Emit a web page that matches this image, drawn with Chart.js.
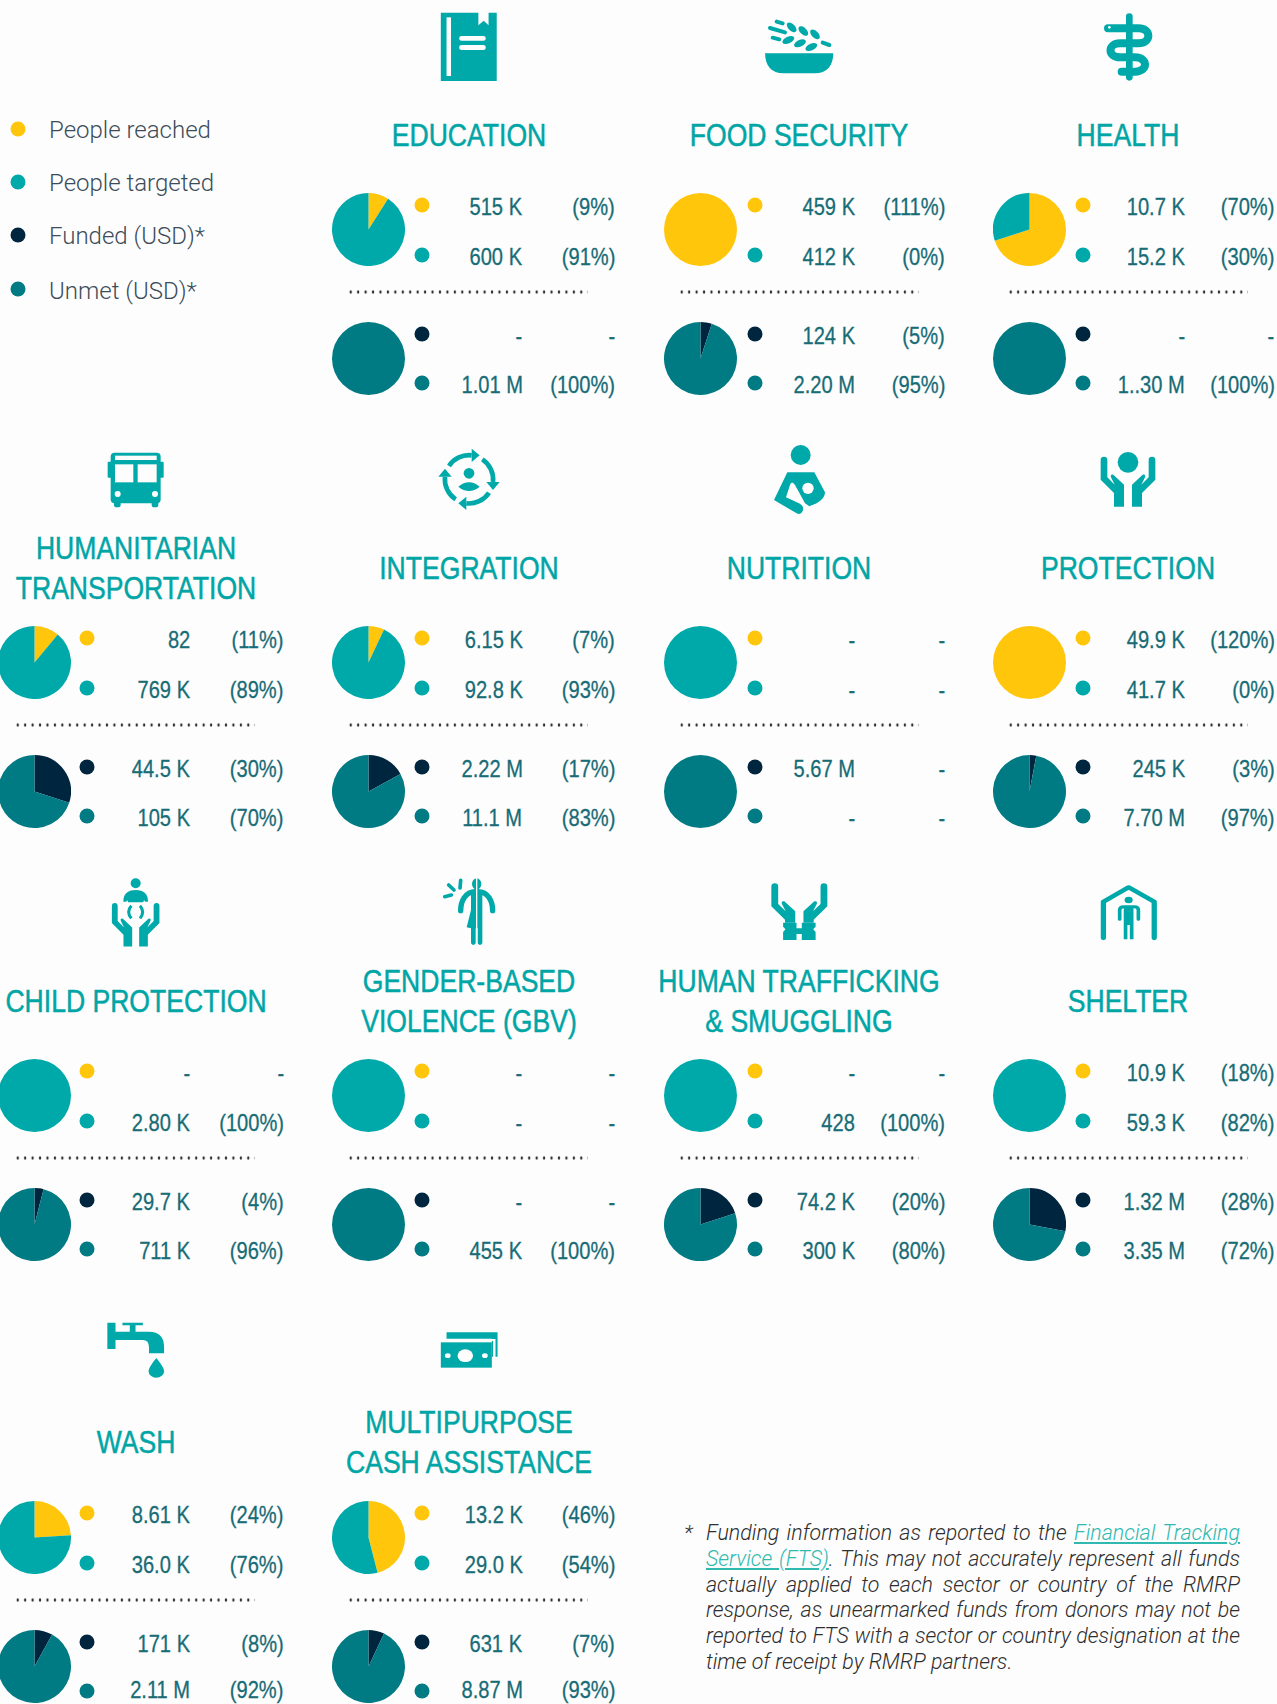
<!DOCTYPE html>
<html lang="en">
<head>
<meta charset="utf-8">
<title>RMRP sector overview</title>
<script src="https://cdn.jsdelivr.net/npm/chart.js@4"></script>
<style>
html,body{margin:0;padding:0;background:#fdfdfd}
#page{position:relative;width:1277px;height:1704px;overflow:hidden;background:#fdfdfd}
#page>*{position:absolute}
.title{font-family:"Liberation Sans",sans-serif;font-size:32px;line-height:32px;color:#00a5a6;text-align:center;white-space:nowrap;transform:translate(-50%,-50%) scaleX(.83);-webkit-text-stroke:.5px #00a5a6}
.val{font-family:"Liberation Sans",sans-serif;font-size:24.5px;line-height:22px;color:#176c76;white-space:nowrap;transform-origin:100% 50%;transform:translateY(-50%) scaleX(.82);-webkit-text-stroke:.3px #176c76}
.dot{width:15px;height:15px;border-radius:50%;transform:translate(-50%,-50%)}
.rule{height:3px;background-image:radial-gradient(circle at center,#333 0,#333 1.1px,transparent 1.5px);background-size:7.45px 3px;background-repeat:repeat-x;transform:translateY(-50%)}
.leg{font-family:Roboto,sans-serif;font-weight:300;font-size:24px;line-height:28px;color:#3c4c59;white-space:nowrap;transform:translateY(-50%)}
.note{font-family:Roboto,sans-serif;font-style:italic;font-weight:300;font-size:21.4px;line-height:26px;color:#2e2e2e;left:706px;width:534px;text-align:justify;text-align-last:justify;white-space:nowrap;transform:translateY(-50%)}
.note.end{text-align-last:left}
.note a{color:#2fb9b0;text-decoration:underline}
.star{font-family:Roboto,sans-serif;font-style:italic;font-weight:300;font-size:21px;color:#333;line-height:26px;transform:translateY(-50%)}
canvas{display:block}
</style>
</head>
<body>
<div id="page"></div>
<script>
// ---------- data ----------
const sectors = ["EDUCATION","FOOD SECURITY","HEALTH","HUMANITARIAN\nTRANSPORTATION","INTEGRATION","NUTRITION","PROTECTION","CHILD PROTECTION","GENDER-BASED\nVIOLENCE (GBV)","HUMAN TRAFFICKING\n& SMUGGLING","SHELTER","WASH","MULTIPURPOSE\nCASH ASSISTANCE"];
const reachedShare  = [9,111,70,11,7,0,120,0,0,0,0,24,46];
const targetedShare = [91,0,30,89,93,100,0,100,100,100,100,76,54];
const fundedShare   = [0,5,0,30,17,0,3,4,0,20,28,8,7];
const unmetShare    = [100,95,100,70,83,100,97,96,100,80,72,92,93];
const reachedText   = ["515 K","459 K","10.7 K","82","6.15 K","-","49.9 K","-","-","-","10.9 K","8.61 K","13.2 K"];
const reachedPct    = ["(9%)","(111%)","(70%)","(11%)","(7%)","-","(120%)","-","-","-","(18%)","(24%)","(46%)"];
const targetedText  = ["600 K","412 K","15.2 K","769 K","92.8 K","-","41.7 K","2.80 K","-","428","59.3 K","36.0 K","29.0 K"];
const targetedPct   = ["(91%)","(0%)","(30%)","(89%)","(93%)","-","(0%)","(100%)","-","(100%)","(82%)","(76%)","(54%)"];
const fundedText    = ["-","124 K","-","44.5 K","2.22 M","5.67 M","245 K","29.7 K","-","74.2 K","1.32 M","171 K","631 K"];
const fundedPct     = ["-","(5%)","-","(30%)","(17%)","-","(3%)","(4%)","-","(20%)","(28%)","(8%)","(7%)"];
const unmetText     = ["1.01 M","2.20 M","1..30 M","105 K","11.1 M","-","7.70 M","711 K","455 K","300 K","3.35 M","2.11 M","8.87 M"];
const unmetPct      = ["(100%)","(95%)","(100%)","(70%)","(83%)","-","(97%)","(96%)","(100%)","(80%)","(72%)","(92%)","(93%)"];
const legendLabels  = ["People reached","People targeted","Funded (USD)*","Unmet (USD)*"];
const noteLines = [
  'Funding information as reported to the <a>Financial Tracking</a>',
  '<a>Service (FTS)</a>. This may not accurately represent all funds',
  'actually applied to each sector or country of the RMRP',
  'response, as unearmarked funds from donors may not be',
  'reported to FTS with a sector or country designation at the',
  'time of receipt by RMRP partners.'
];

// ---------- layout and style ----------
const YELLOW="#ffc60b", TEAL="#00a9a9", DEEP="#007a83", NAVY="#00263f";
const sectorCol=[1,2,3,0,1,2,3,0,1,2,3,0,1];
const sectorRow=[0,0,0,1,1,1,1,2,2,2,2,3,3];
const pieX=[34.5,368.5,700.5,1029.5], dotX=[87,422.4,754.7,1083];
const valRight=[190,522.4,855,1185], pctRight=[283.7,615,945,1274.5];
const ruleLeft=[14,347,677.5,1006.5];
const titleX=[135.5,468.6,799,1127.5];
const rowTop=[229,662,1095,1537], titleY=[135,567.7,1001,1442];
const lastTextLift=[0,0,0,3];
const PIE=73;
const page=document.getElementById("page");
function el(cls,style,html){const d=document.createElement("div");d.className=cls;Object.assign(d.style,style);if(html!==undefined)d.innerHTML=html;page.appendChild(d);return d;}

function pie(cx,cy,values,colors){
  const c=document.createElement("canvas");
  c.width=PIE;c.height=PIE;
  c.style.cssText=`width:${PIE}px;height:${PIE}px;left:${cx-PIE/2}px;top:${cy-PIE/2}px`;
  page.appendChild(c);
  new Chart(c,{type:"pie",data:{labels:["a","b"],datasets:[{data:values,backgroundColor:colors,borderWidth:0}]},
    options:{responsive:false,animation:false,layout:{padding:0},plugins:{legend:{display:false},tooltip:{enabled:false}}}});
}
function row(col,y,color,val,pct,lift){
  const ty=y+1.8-(lift||0);
  el("dot",{left:dotX[col]+"px",top:y+"px",background:color});
  el("val",{right:(1277-valRight[col])+"px",top:ty+"px"},val);
  el("val",{right:(1277-pctRight[col])+"px",top:ty+"px"},pct);
}
sectors.forEach((s,i)=>{
  const c=sectorCol[i],r=sectorRow[i],t=rowTop[r],b=t+129;
  const lines=s.split("\n");
  lines.forEach((ln,k)=>{
    const y=titleY[r]+(lines.length===2?(k===0?-20:20.3):0);
    el("title",{left:titleX[c]+"px",top:y+"px"},ln.replace("&","&amp;"));
  });
  pie(pieX[c],t,[reachedShare[i],targetedShare[i]],[YELLOW,TEAL]);
  pie(pieX[c],b,[fundedShare[i],unmetShare[i]],[NAVY,DEEP]);
  row(c,t-24,YELLOW,reachedText[i],reachedPct[i]);
  row(c,t+25.7,TEAL,targetedText[i],targetedPct[i]);
  row(c,b-24,NAVY,fundedText[i],fundedPct[i]);
  row(c,b+25.3,DEEP,unmetText[i],unmetPct[i],lastTextLift[r]);
  el("rule",{left:ruleLeft[c]+"px",width:"241px",top:(t+63)+"px"});
});
[129,181.7,235,289.3].forEach((y,i)=>{
  el("dot",{left:"18.4px",top:y+"px",background:[YELLOW,TEAL,NAVY,DEEP][i]});
  el("leg",{left:"49px",top:(y+1.3)+"px"},legendLabels[i]);
});
el("star",{left:"684px",top:"1533px"},"*");
noteLines.forEach((t,i)=>{
  el("note"+(i===noteLines.length-1?" end":""),{top:(1533.3+i*25.7)+"px"},t);
});

// ---------- sector icons ----------
const I=(ox,oy,sx,sy,body)=>`<g transform="translate(${ox} ${oy}) scale(${1/sx} ${1/sy})">${body}</g>`;
const W="#fdfdfd";
const handL="M-82 -60a10 10 0 0 1 20 0V-8L-40 14 -51 -8Q-54 -18 -44 -16L-12 14V80H-42V39L-82 -1Z";
const handCuffed="M-82 -60a10 10 0 0 1 20 0V-8L-40 14 -51 -8Q-54 -18 -44 -16L-12 14V48H-42V39L-82 -1Z";
const hands=`<path d="${handL}"/><path d="${handL}" transform="scale(-1 1)"/>`;
const handsCuffed=`<path d="${handCuffed}"/><path d="${handCuffed}" transform="scale(-1 1)"/>`;
const arcQ=`<path d="M-60 -40A72 72 0 0 1 8 -72" fill="none" stroke="#00a9a9" stroke-width="14"/><path d="M8 -92L32 -72 8 -52Z"/>`;
const icons=[
 I(0,0,2.45,3,`<path d="M1080 38H1172V76L1185 62 1197 76V38H1217V243H1080Z"/><rect x="1094" y="52" width="11" height="176" fill="${W}"/><rect x="1125" y="108" width="65" height="14" rx="6" fill="${W}"/><rect x="1125" y="135" width="65" height="15" rx="6" fill="${W}"/>`),
 I(750,0,3,3,`<path d="M45 160H250Q248 220 195 220H100Q47 220 45 160Z"/><g fill="none" stroke="#00a9a9" stroke-width="12" stroke-linecap="round"><path d="M80 65L98 70M60 84L105 97M68 113L88 118M218 128L238 135"/></g><ellipse cx="125" cy="82" rx="18" ry="10" transform="rotate(45 125 82)"/><ellipse cx="160" cy="93" rx="18" ry="10" transform="rotate(45 160 93)"/><ellipse cx="195" cy="103" rx="18" ry="10" transform="rotate(45 195 103)"/><ellipse cx="115" cy="120" rx="19" ry="10" transform="rotate(-25 115 120)"/><ellipse cx="150" cy="130" rx="19" ry="10" transform="rotate(-25 150 130)"/><ellipse cx="184" cy="141" rx="19" ry="10" transform="rotate(-25 184 141)"/>`),
 I(750,0,3,3,`<path d="M1138 50V232" stroke="#00a9a9" stroke-width="20" stroke-linecap="round" fill="none"/><path d="M1074 85H1165C1205 85 1205 130 1165 130H1110C1072 130 1072 172 1110 172H1155C1195 172 1195 215 1155 215H1115" fill="none" stroke="#00a9a9" stroke-width="24" stroke-linecap="round"/><circle cx="1078" cy="82" r="4" fill="${W}"/>`),
 I(90,440,3,3,`<rect x="62" y="38" width="150" height="152" rx="12"/><rect x="53" y="65" width="12" height="48" rx="3"/><rect x="209" y="65" width="12" height="48" rx="3"/><rect x="72" y="180" width="20" height="22" rx="8"/><rect x="185" y="180" width="20" height="22" rx="8"/><rect x="75" y="47" width="125" height="13" fill="${W}"/><rect x="75" y="73" width="55" height="54" fill="${W}"/><rect x="143" y="73" width="57" height="54" fill="${W}"/><circle cx="83" cy="162" r="9" fill="${W}"/><circle cx="195" cy="162" r="9" fill="${W}"/>`),
 I(90,440,3,3,`<g transform="translate(1137 118)">${[0,90,180,270].map(a=>`<g transform="rotate(${a})">${arcQ}</g>`).join("")}<circle cx="0" cy="-18" r="16"/><path d="M-32 22Q0 -4 32 22Q0 48 -32 22Z"/></g>`),
 I(750,435,3,3,`<circle cx="152" cy="60" r="30"/><path d="M112 112H193L225 172Q225 198 178 214L165 205 135 150Q125 135 120 150L108 187 150 206Q166 216 156 232 150 240 140 235L72 195Z"/><circle cx="174" cy="160" r="17" fill="${W}"/>`),
 I(750,435,3,3,`<circle cx="1134" cy="82" r="31"/><g transform="translate(1134 135)">${hands}</g>`),
 I(90,870,3,3,`<circle cx="137" cy="40" r="15"/><path d="M100 95Q100 60 137 60Q174 60 174 95H165Q162 85 160 97H114Q112 85 109 95Z"/><path d="M124 107Q108 125 124 145M150 107Q166 125 150 145" fill="none" stroke="#00a9a9" stroke-width="9"/><g transform="translate(137 160) scale(.87)">${hands}</g>`),
 I(90,870,3,3,`<ellipse cx="1160" cy="42" rx="14" ry="17"/><path d="M1157 65H1163C1195 65 1208 95 1208 122" fill="none" stroke="#00a9a9" stroke-width="16" stroke-linecap="round"/><path d="M1163 65H1157C1125 65 1112 95 1112 122" fill="none" stroke="#00a9a9" stroke-width="16" stroke-linecap="round"/><path d="M1130 172L1143 120V70H1177V220Q1170 230 1163 220V175H1157V220Q1150 230 1143 220V175Z"/><rect x="1158" y="20" width="4" height="215" fill="${W}"/><path d="M1064 80L1084 75M1076 45L1092 60M1112 31L1110 54" stroke="#00a9a9" stroke-width="11" stroke-linecap="round" fill="none"/>`),
 I(640,860,2.46,3,`<g transform="translate(392 140) scale(.84 1)">${handsCuffed}</g><path d="M352 188H385V205H398V188H432V200L426 208 432 216V240H398V222H385V240H352V216L358 208 352 200Z"/>`),
 I(640,860,2.46,3,`<path d="M1140 234V125L1202 82 1265 125V234" fill="none" stroke="#00a9a9" stroke-width="13" stroke-linecap="round" stroke-linejoin="round"/><circle cx="1202" cy="120" r="10"/><path d="M1180 178V150Q1180 140 1190 140H1216Q1226 140 1226 150V178" fill="none" stroke="#00a9a9" stroke-width="9" stroke-linecap="round"/><path d="M1190 142H1214V238H1205V195H1199V238H1190Z"/>`),
 I(0,1290,2.45,3,`<path d="M263 98H283V125H318V106H300V98H350V106H332V125H365Q402 125 402 172V190H365V172Q365 150 350 150H283V177H263Z"/><path d="M383 204Q402 232 402 244A19 19 0 0 1 364 244Q364 232 383 204Z"/>`),
 I(0,1290,2.45,3,`<path d="M1094 127H1219V200H1205V146H1094Z"/><rect x="1080" y="157" width="125" height="76"/><path d="M1080 150H1211V233" fill="none" stroke="${W}" stroke-width="6"/><circle cx="1140" cy="197" r="19" fill="${W}"/><circle cx="1097" cy="197" r="7" fill="${W}"/><circle cx="1188" cy="197" r="7" fill="${W}"/>`)
];
const svg=document.createElementNS("http://www.w3.org/2000/svg","svg");
svg.setAttribute("width","1277");svg.setAttribute("height","1704");svg.setAttribute("viewBox","0 0 1277 1704");
svg.setAttribute("fill",TEAL);svg.style.cssText="left:0;top:0;pointer-events:none";
svg.innerHTML=icons.join("");
page.appendChild(svg);
</script>
</body>
</html>
